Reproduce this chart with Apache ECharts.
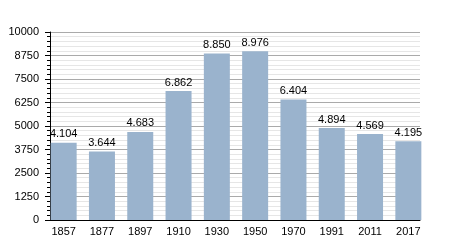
<!DOCTYPE html>
<html><head><meta charset="utf-8">
<script src="https://cdn.jsdelivr.net/npm/echarts@6/dist/echarts.min.js"></script>
<style>html,body{margin:0;padding:0;background:#fff}#c{width:450px;height:250px}</style>
</head><body><div id="c"></div>
<script>
const categories = ['1857','1877','1897','1910','1930','1950','1970','1991','2011','2017'];
const population = [4104, 3644, 4683, 6862, 8850, 8976, 6404, 4894, 4569, 4195];
const yTicks = [0, 1250, 2500, 3750, 5000, 6250, 7500, 8750, 10000];

const fmt = v => String(v).replace(/\B(?=(\d{3})+(?!\d))/g, '.');
const font = 'Liberation Sans, Arial, sans-serif';
const chart = echarts.init(document.getElementById('c'));
chart.setOption({
  animation: false,
  backgroundColor: '#fff',
  grid: [
    {left: 50, right: 30, top: 32, bottom: 30},
    {left: 44.5, width: 383, top: 32, bottom: 30}
  ],
  xAxis: [
    {gridIndex: 0, type: 'category', data: categories, z: 5,
     axisLine: {show: true, lineStyle: {color: '#000', width: 1}},
     axisTick: {show: false}, axisLabel: {show: false}, splitLine: {show: false}},
    {gridIndex: 1, type: 'category', data: categories,
     axisLine: {show: false}, axisTick: {show: false},
     axisLabel: {color: '#000', fontSize: 11, fontFamily: font, margin: 6}}
  ],
  yAxis: [
    {gridIndex: 0, type: 'value', min: yTicks[0], max: yTicks[yTicks.length - 1], interval: 1250,
     axisLine: {show: true, lineStyle: {color: '#000', width: 1}},
     axisTick: {show: true, length: 5, lineStyle: {color: '#000'}},
     minorTick: {show: true, splitNumber: 5, length: 3, lineStyle: {color: '#000'}},
     axisLabel: {color: '#000', fontSize: 11, fontFamily: font, margin: 11, formatter: v => String(v)},
     splitLine: {show: true, lineStyle: {color: '#aaaaaa', width: 1}},
     minorSplitLine: {show: true, lineStyle: {color: '#e6e6e6', width: 1}}},
    {gridIndex: 1, type: 'value', min: yTicks[0], max: yTicks[yTicks.length - 1], show: false,
     splitLine: {show: false}}
  ],
  series: [{
    type: 'bar', xAxisIndex: 1, yAxisIndex: 1, data: population, barWidth: 26, z: 3,
    itemStyle: {color: '#9ab3cd'},
    label: {show: true, position: 'top', distance: 3, color: '#000', fontSize: 11, fontFamily: font,
            formatter: p => fmt(p.value)}
  }]
});
</script></body></html>
